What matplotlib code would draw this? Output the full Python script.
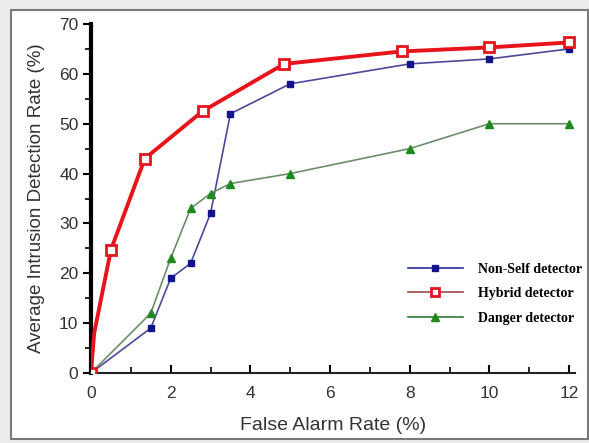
import matplotlib
matplotlib.use('Agg')
import matplotlib.pyplot as plt
from matplotlib.lines import Line2D
from matplotlib.patches import Rectangle
from matplotlib.ticker import MultipleLocator

# Data
nonself_x = [0, 1.5, 2, 2.5, 3, 3.5, 5, 8, 10, 12]
nonself_y = [0, 9, 19, 22, 32, 52, 58, 62, 63, 65]

hybrid_x = [0, 0.08, 0.5, 1.35, 2.8, 4.85, 7.8, 10, 12]
hybrid_y = [0, 8, 24.7, 43, 52.5, 62, 64.5, 65.3, 66.3]
hybrid_marked = [0, 2, 3, 4, 5, 6, 7, 8]

danger_x = [0, 1.5, 2, 2.5, 3, 3.5, 5, 8, 10, 12]
danger_y = [0, 12, 23, 33, 36, 38, 40, 45, 50, 50]

labels = ['Non-Self detector', 'Hybrid detector', 'Danger detector']

TEXT_COLOR = '#333333'
NAVY = '#14148a'
RED = '#e8141c'
GREEN = '#1e8a1e'

plt.rcParams['font.family'] = ['Liberation Sans', 'DejaVu Sans']

fig = plt.figure(figsize=(5.89, 4.43), dpi=100, facecolor='#ececec')
# white panel with grey frame like the screenshot
fig.patches.append(Rectangle((11 / 589, 1 - 439 / 443), 577 / 589, 429 / 443,
                             transform=fig.transFigure, facecolor='white',
                             edgecolor='#7a7a7a', linewidth=1.5, zorder=-10))

ax = fig.add_axes([91 / 589, 1 - 373 / 443, 484 / 589, 349 / 443])
ax.set_facecolor('none')
ax.set_zorder(5)

ax.plot(nonself_x, nonself_y, color='#4a4a9a', lw=1.2, marker='s', ms=5,
        mfc=NAVY, mec=NAVY, zorder=3)
ax.plot(danger_x, danger_y, color='#6a8f6a', lw=1.2, marker='^', ms=6,
        mfc=GREEN, mec=GREEN, zorder=3)
ax.plot(hybrid_x, hybrid_y, color=RED, lw=2.8, marker='s', ms=7, mfc='white',
        mec=RED, mew=2, markevery=hybrid_marked, zorder=4)

ax.set_xlim(0, 12.15)
ax.set_ylim(0, 70)
ax.xaxis.set_major_locator(MultipleLocator(2))
ax.xaxis.set_minor_locator(MultipleLocator(1))
ax.yaxis.set_major_locator(MultipleLocator(10))
ax.yaxis.set_minor_locator(MultipleLocator(5))

ax.spines['top'].set_visible(False)
ax.spines['right'].set_visible(False)
ax.spines['left'].set_linewidth(3)
ax.spines['left'].set_color('black')
ax.spines['bottom'].set_linewidth(1.5)
ax.spines['bottom'].set_color('#222222')

ax.tick_params(axis='y', which='major', direction='out', length=6, width=1.5,
               labelsize=12.5, labelcolor=TEXT_COLOR, pad=3)
ax.tick_params(axis='y', which='minor', direction='out', length=4, width=1.2)
ax.tick_params(axis='x', which='major', direction='in', length=6, width=1.5,
               labelsize=12.5, labelcolor=TEXT_COLOR, pad=9)
ax.tick_params(axis='x', which='minor', direction='in', length=4, width=1.2)

ax.set_xlabel('False Alarm Rate (%)', fontsize=14, color=TEXT_COLOR, labelpad=12)
ax.set_ylabel('Average Intrusion Detection Rate (%)', fontsize=13.5, color=TEXT_COLOR, labelpad=10)

# Legend (line colours in the key differ slightly from the plot)
handles = [
    Line2D([], [], color='#2a2a9a', lw=1.2, marker='s', ms=5, mfc=NAVY, mec=NAVY),
    Line2D([], [], color='#a04848', lw=1.2, marker='s', ms=6, mfc='white', mec=RED, mew=2),
    Line2D([], [], color='#2e7d32', lw=1.2, marker='^', ms=6, mfc=GREEN, mec=GREEN),
]
ax.legend(handles, labels, loc='upper left', bbox_to_anchor=(395 / 589, 1 - 250 / 443),
          bbox_transform=fig.transFigure, frameon=False, handlelength=4,
          labelspacing=0.85, handletextpad=1.1,
          prop={'family': 'Liberation Serif', 'weight': 'bold', 'size': 10})

fig.savefig('out.png', dpi=100, facecolor=fig.get_facecolor())
